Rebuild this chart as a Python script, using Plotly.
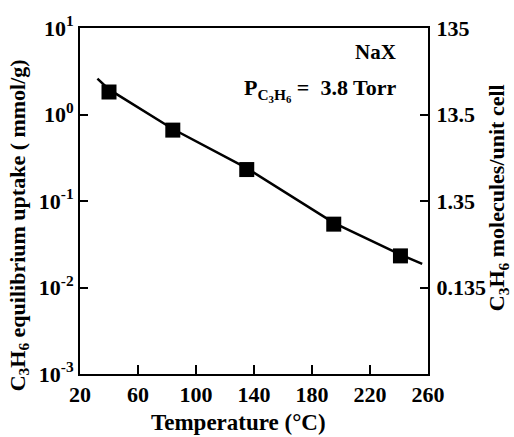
import plotly.graph_objects as go
import math

# Data
temp_pts = [40, 84, 135, 195, 241]
uptake_pts = [1.82, 0.66, 0.231, 0.054, 0.0232]

line_temp = [32, 40, 84, 135, 195, 241, 256]
line_uptake = [2.6, 1.95, 0.68, 0.24, 0.056, 0.024, 0.0188]

x_ticks = [20, 60, 100, 140, 180, 220, 260]
x_ticktext = ["20", "60", "100", "140", "180", "220", "260"]
y_ticks = [1e1, 1e0, 1e-1, 1e-2, 1e-3]
y_ticktext = ["10<sup>1</sup>", "10<sup>0</sup>", "10<sup>-1</sup>", "10<sup>-2</sup>", "10<sup>-3</sup>"]
y2_ticks = [135, 13.5, 1.35, 0.135]
y2_ticktext = ["135", "13.5", "1.35", "0.135"]
MOLEC_PER_MMOL = 13.5  # right-axis scale factor

FONT = "Liberation Serif"
tickfont = dict(family=FONT, size=22, color="black")

def b(s):
    return "<b>" + s + "</b>"

fig = go.Figure()
fig.add_trace(go.Scatter(x=line_temp, y=line_uptake, mode="lines",
                         line=dict(color="black", width=2.5), showlegend=False,
                         hoverinfo="skip"))
fig.add_trace(go.Scatter(x=temp_pts, y=uptake_pts, mode="markers",
                         marker=dict(symbol="square", size=15, color="black"),
                         showlegend=False))
fig.add_trace(go.Scatter(x=temp_pts, y=[u * MOLEC_PER_MMOL for u in uptake_pts],
                         yaxis="y2", mode="markers",
                         marker=dict(size=1, opacity=0), showlegend=False,
                         hoverinfo="skip"))

fig.update_layout(
    width=514, height=437,
    margin=dict(l=80, r=86, t=22, b=63),
    plot_bgcolor="white", paper_bgcolor="white",
    xaxis=dict(range=[20, 260], tickvals=x_ticks, ticktext=[b(t) for t in x_ticktext],
               ticks="inside", ticklen=9,
               tickwidth=1.5, tickcolor="black", showline=True, linecolor="black",
               linewidth=2, mirror=True, showgrid=False, zeroline=False,
               tickfont=tickfont),
    yaxis=dict(type="log", range=[-3, 1], tickvals=y_ticks,
               ticktext=[b(t) for t in y_ticktext],
               ticks="inside", ticklen=8, tickwidth=1.5, tickcolor="black",
               showline=True, linecolor="black", linewidth=2, showgrid=False,
               zeroline=False, tickfont=tickfont, ticklabelstandoff=0),
    yaxis2=dict(type="log", overlaying="y", side="right",
                range=[math.log10(0.0135), math.log10(135)],
                tickvals=y2_ticks, ticktext=[b(t) for t in y2_ticktext],
                ticks="inside", ticklen=8, tickwidth=1.5, tickcolor="black",
                showline=True, linecolor="black", linewidth=2, showgrid=False,
                zeroline=False, tickfont=tickfont, ticklabelstandoff=2),
)

titlefont = dict(family=FONT, size=23, color="black")
fig.add_annotation(text=b("Temperature (°C)"), xref="paper", yref="paper",
                   x=0.455, y=-0.14, xanchor="center", yanchor="middle",
                   showarrow=False, font=titlefont)
fig.add_annotation(text=b("C<sub>3</sub>H<sub>6</sub> equilibrium uptake ( mmol/g)"),
                   xref="paper", yref="paper", x=-0.175, y=0.43,
                   xanchor="center", yanchor="middle", textangle=-90,
                   showarrow=False, font=dict(family=FONT, size=22, color="black"))
fig.add_annotation(text=b("C<sub>3</sub>H<sub>6</sub> molecules/unit cell"),
                   xref="paper", yref="paper", x=1.2, y=0.51,
                   xanchor="center", yanchor="middle", textangle=-90,
                   showarrow=False, font=dict(family=FONT, size=22, color="black"))
fig.add_annotation(text=b("NaX"), xref="paper", yref="paper", x=0.915, y=0.93,
                   xanchor="right", yanchor="middle", showarrow=False,
                   font=dict(family=FONT, size=21, color="black"))
fig.add_annotation(text=b("P<sub>C<sub>3</sub>H<sub>6</sub></sub> =  3.8 Torr"),
                   xref="paper", yref="paper", x=0.915, y=0.82,
                   xanchor="right", yanchor="middle", showarrow=False,
                   font=dict(family=FONT, size=22, color="black"))

fig.write_html("out.html")
